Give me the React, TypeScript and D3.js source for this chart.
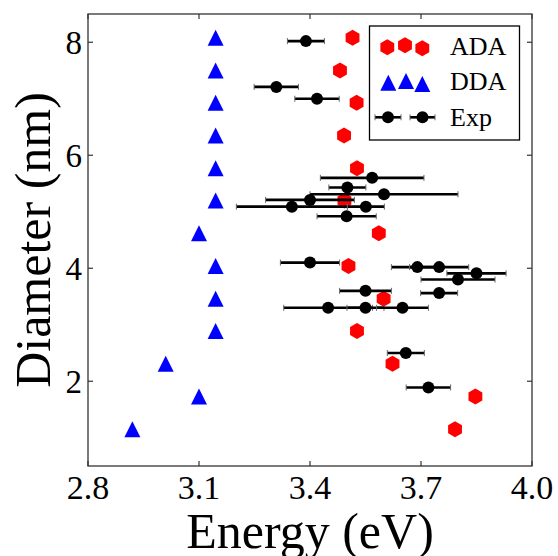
import React from "react";
import * as d3 from "d3";

// ---- data ----
const diameters = [8.08, 7.5, 6.93, 6.35, 5.77, 5.2, 4.62, 4.04, 3.46, 2.89, 2.31, 1.73, 1.15];
const adaEnergy = [3.515, 3.481, 3.526, 3.492, 3.527, 3.493, 3.586, 3.504, 3.599, 3.527, 3.623, 3.847, 3.792];
const ddaEnergy = [3.145, 3.145, 3.145, 3.145, 3.145, 3.145, 3.1, 3.145, 3.145, 3.145, 3.01, 3.1, 2.92];

const expEnergy = [3.389, 3.309, 3.419, 3.568, 3.501, 3.6, 3.4, 3.351, 3.551, 3.499, 3.4, 3.69, 3.749, 3.85, 3.8, 3.55, 3.749, 3.449, 3.55, 3.65, 3.659, 3.72];
const expDiameter = [8.02, 7.21, 7.0, 5.6, 5.43, 5.31, 5.21, 5.09, 5.09, 4.92, 4.1, 4.02, 4.02, 3.91, 3.8, 3.6, 3.56, 3.3, 3.3, 3.3, 2.5, 1.89];
const expErr = [0.05, 0.06, 0.06, 0.14, 0.05, 0.2, 0.12, 0.15, 0.05, 0.08, 0.08, 0.07, 0.08, 0.08, 0.1, 0.07, 0.05, 0.12, 0.05, 0.07, 0.05, 0.06];

const xTicks = [2.8, 3.1, 3.4, 3.7, 4.0];
const yTicks = [2, 4, 6, 8];
const xDomain = [2.8, 4.0];
const yDomain = [0.5, 8.5];

const W = 558, H = 556;
const M = { left: 88, right: 532, top: 14, bottom: 466 };
const FONT = "'Liberation Serif', 'DejaVu Serif', serif";

const hexPath = (cx: number, cy: number, r: number) => {
  const pts = d3.range(6).map((i) => {
    const a = Math.PI / 2 + (i * Math.PI) / 3;
    return [cx + r * Math.cos(a), cy - r * Math.sin(a)];
  });
  return "M" + pts.map((p) => p.join(",")).join("L") + "Z";
};
const triPath = (cx: number, cy: number, s: number) =>
  `M${cx},${cy - s}L${cx - s},${cy + s}L${cx + s},${cy + s}Z`;

function ErrPoint({ x, y, x0, x1 }: { x: number; y: number; x0: number; x1: number }) {
  return (
    <g>
      <line x1={x0} x2={x1} y1={y} y2={y} stroke="#000" strokeWidth={2.6} />
      <line x1={x0} x2={x0} y1={y - 3} y2={y + 3} stroke="#666" strokeWidth={1} />
      <line x1={x1} x2={x1} y1={y - 3} y2={y + 3} stroke="#666" strokeWidth={1} />
      <circle cx={x} cy={y} r={6} fill="#000" />
    </g>
  );
}

export default function App() {
  const x = d3.scaleLinear().domain(xDomain).range([M.left, M.right]);
  const y = d3.scaleLinear().domain(yDomain).range([M.bottom, M.top]);
  const tickLen = 5;
  const axisColor = "#333";

  return (
    <svg width={W} height={H} style={{ position: "absolute", left: 0, top: 0, background: "#fff" }} fontFamily={FONT}>
      <rect width={W} height={H} fill="#fff" />
      {/* ADA */}
      {diameters.map((d, i) => (
        <path key={"a" + i} d={hexPath(x(adaEnergy[i]), y(d), 8)} fill="#ff0000" />
      ))}
      {/* DDA */}
      {diameters.map((d, i) => (
        <path key={"d" + i} d={triPath(x(ddaEnergy[i]), y(d), 8)} fill="#0000ff" />
      ))}
      {/* Exp */}
      {expEnergy.map((e, i) => (
        <ErrPoint key={"e" + i} x={x(e)} y={y(expDiameter[i])} x0={x(e - expErr[i])} x1={x(e + expErr[i])} />
      ))}

      {/* frame */}
      <rect x={M.left} y={M.top} width={M.right - M.left} height={M.bottom - M.top} fill="none" stroke={axisColor} strokeWidth={1.3} />
      {/* ticks */}
      {xTicks.map((t) => (
        <g key={"xt" + t}>
          <line x1={x(t)} x2={x(t)} y1={M.bottom} y2={M.bottom - tickLen} stroke={axisColor} strokeWidth={1.2} />
          <line x1={x(t)} x2={x(t)} y1={M.top} y2={M.top + tickLen} stroke={axisColor} strokeWidth={1.2} />
          <text x={x(t)} y={499} fontSize={34} textAnchor="middle" fill="#000">
            {t.toFixed(1)}
          </text>
        </g>
      ))}
      {yTicks.map((t) => (
        <g key={"yt" + t}>
          <line x1={M.left} x2={M.left + tickLen} y1={y(t)} y2={y(t)} stroke={axisColor} strokeWidth={1.2} />
          <line x1={M.right} x2={M.right - tickLen} y1={y(t)} y2={y(t)} stroke={axisColor} strokeWidth={1.2} />
          <text x={82} y={y(t)} dy="0.35em" fontSize={33} textAnchor="end" fill="#000">
            {t}
          </text>
        </g>
      ))}

      {/* axis labels */}
      <text x={(M.left + M.right) / 2} y={548} fontSize={50} textAnchor="middle" fill="#000">
        Energy (eV)
      </text>
      <text transform={`translate(50,${(M.top + M.bottom) / 2}) rotate(-90)`} fontSize={50} textAnchor="middle" fill="#000">
        Diameter (nm)
      </text>

      {/* legend */}
      <g>
        <rect x={369.5} y={26} width={150} height={114} fill="#fff" stroke="#000" strokeWidth={1.3} />
        <path d={hexPath(387.3, 47.3, 8)} fill="#ff0000" />
        <path d={hexPath(405, 45.3, 8)} fill="#ff0000" />
        <path d={hexPath(422.3, 48.3, 8)} fill="#ff0000" />
        <text x={450} y={55} fontSize={26} fill="#000">ADA</text>
        <path d={triPath(388.3, 82.7, 8)} fill="#0000ff" />
        <path d={triPath(406, 81, 8)} fill="#0000ff" />
        <path d={triPath(422.3, 84, 8)} fill="#0000ff" />
        <text x={450} y={90} fontSize={26} fill="#000">DDA</text>
        <ErrPoint x={388} y={117.3} x0={375} x1={401} />
        <ErrPoint x={422.5} y={117.3} x0={410} x1={435} />
        <text x={450} y={126} fontSize={26} fill="#000">Exp</text>
      </g>
    </svg>
  );
}
